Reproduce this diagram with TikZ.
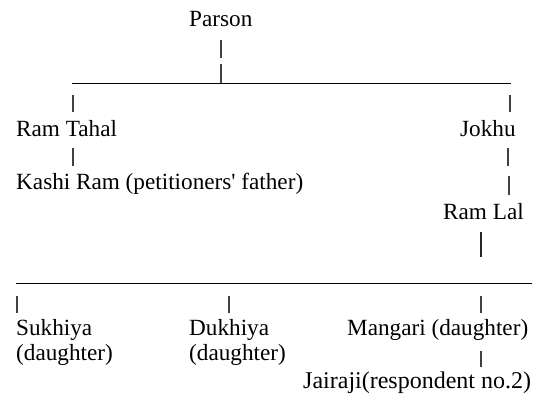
\documentclass[tikz,border=0pt]{standalone}
\usepackage{fontspec}
\setmainfont{Liberation Serif}

\begin{document}
\begin{tikzpicture}[x=1pt,y=-1pt,
    every node/.style={inner sep=0pt,anchor=base west,font=\fontsize{23.2}{27}\selectfont},
    tick/.style={line width=1.1pt,black!75},
    bigtick/.style={line width=1.6pt,black!85},
    rule/.style={line width=0.9pt,black}]
    \useasboundingbox[fill=white] (0,0) rectangle (542,395);

    % people
    \node (parson)   at (189,27)  {Parson};
    \node (ramtahal) at (16,137)  {Ram Tahal};
    \node (jokhu)    at (460,137) {Jokhu};
    \node (kashi)    at (16,190)  {Kashi Ram (petitioners\textquotesingle\ father)};
    \node (ramlal)   at (443,220) {Ram Lal};
    \node (sukhiya)  at (16,336)  {Sukhiya};
    \node (sukhiyad) at (16,361)  {(daughter)};
    \node (dukhiya)  at (189,336) {Dukhiya};
    \node (dukhiyad) at (189,361) {(daughter)};
    \node (mangari)  at (347,336) {Mangari (daughter)};
    \node[font=\fontsize{24}{27}\selectfont] (jairaji) at (303,389) {Jairaji(respondent no.2)};

    % first generation
    \coordinate (top1) at (221,40);
    \coordinate (top2) at (221,58);
    \coordinate (mid1) at (221,64);
    \coordinate (rowl) at (72,83);
    \coordinate (rowr) at (511,83);
    \draw[tick] (top1) -- (top2);
    \draw[tick] (mid1) -- (mid1 |- rowl);
    \draw[rule] (rowl) -- (rowr);

    \coordinate (lt1) at (73,95);
    \coordinate (rt1) at (510,95);
    \draw[tick] (lt1) -- ++(0,17);
    \draw[tick] (rt1) -- ++(0,17);

    % second generation
    \coordinate (lt2) at (73,148);
    \coordinate (rt2) at (508,148);
    \coordinate (rt3) at (509,176);
    \draw[tick] (lt2) -- ++(0,18);
    \draw[tick] (rt2) -- ++(0,18);
    \draw[tick] (rt3) -- ++(0,19);

    % Ram Lal's children
    \coordinate (lal1) at (481,232);
    \coordinate (lal2) at (481,257);
    \draw[bigtick] (lal1) -- (lal2);
    \coordinate (kidl) at (16,283);
    \coordinate (kidr) at (532,283);
    \draw[rule] (kidl) -- (kidr);

    \coordinate (k1) at (17,296);
    \coordinate (k2) at (229,296);
    \coordinate (k3) at (481,296);
    \draw[tick] (k1) -- ++(0,17);
    \draw[tick] (k2) -- ++(0,17);
    \draw[tick] (k3) -- ++(0,17);

    \coordinate (mg) at (481,351);
    \draw[tick] (mg) -- ++(0,16);
\end{tikzpicture}
\end{document}
